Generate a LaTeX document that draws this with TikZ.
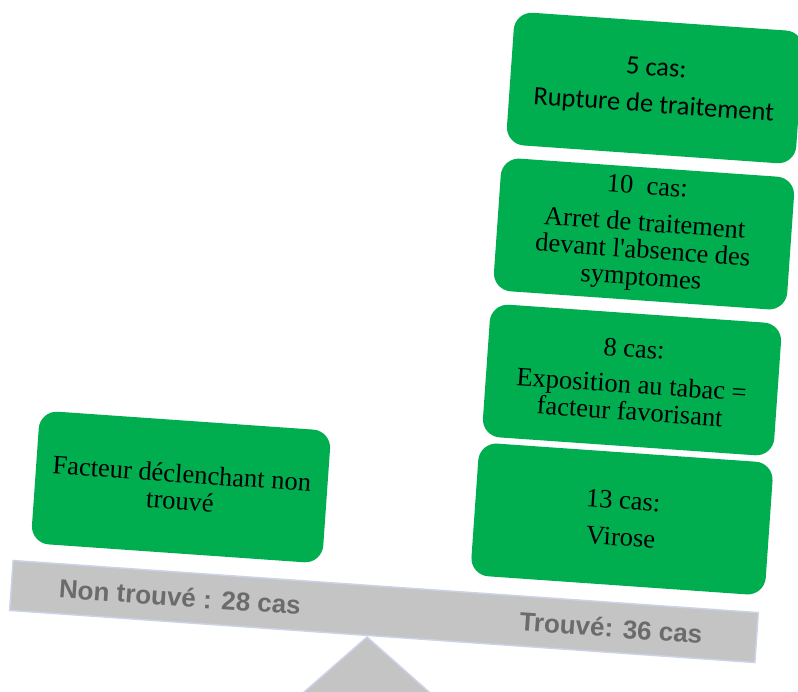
\documentclass[tikz,border=0pt]{standalone}
\usepackage{fontspec}
\setmainfont{Liberation Serif}
\newfontfamily\calibrifont{Carlito}
\newfontfamily\arialfont{Liberation Sans}
\definecolor{boxgreen}{HTML}{00AE50}
\definecolor{bargray}{HTML}{C4C4C4}
\definecolor{barline}{HTML}{CCD3E8}
\definecolor{labgray}{HTML}{6B6B6B}
\begin{document}
\begin{tikzpicture}[x=1pt,y=-1pt,
  box/.style={fill=boxgreen, rounded corners=18pt, rotate=-4, minimum width=292pt,
    minimum height=133pt, align=center, inner sep=0pt,
    font=\fontsize{26.5}{27}\selectfont},
  barlabel/.style={rotate=-4, text=labgray, inner sep=0pt,
    font=\arialfont\bfseries\fontsize{26}{28}\selectfont},
  balance/.style={fill=bargray, draw=barline, line width=1.5pt}]
\useasboundingbox (0,0) rectangle (798,691);
\clip (0,0) rectangle (798,691);
% fulcrum
\draw[balance] (367,637) -- (295,700) -- (438,700) -- cycle;
% beam
\node[balance, rotate=-4, minimum width=747pt, minimum height=50pt, inner sep=0pt] (bar) at (384,611.5) {};
\node[barlabel] (lnon) at (180,597) {Non trouvé : 28 cas};
\node[barlabel] (ltrouve) at (611,628) {Trouvé: 36 cas};
% left box
\node[box] (left) at (181,487) {Facteur déclenchant non\\trouvé};
% right stack
\node[box, minimum width=295pt] (b13) at (622,519) {13 cas:\\[10pt]Virose};
\node[box] (b8) at (632,380) {8 cas:\\[9pt]Exposition au tabac =\\facteur favorisant};
\node[box, minimum width=294pt] (b10) at (644,234) {10\ \ cas:\\[10pt]Arret de traitement\\devant l\textquotesingle absence des\\symptomes};
\node[box, minimum width=290pt, font=\calibrifont\fontsize{26.5}{27}\selectfont] (b5) at (655,88) {5 cas:\\[10pt]Rupture de traitement};
\end{tikzpicture}
\end{document}
